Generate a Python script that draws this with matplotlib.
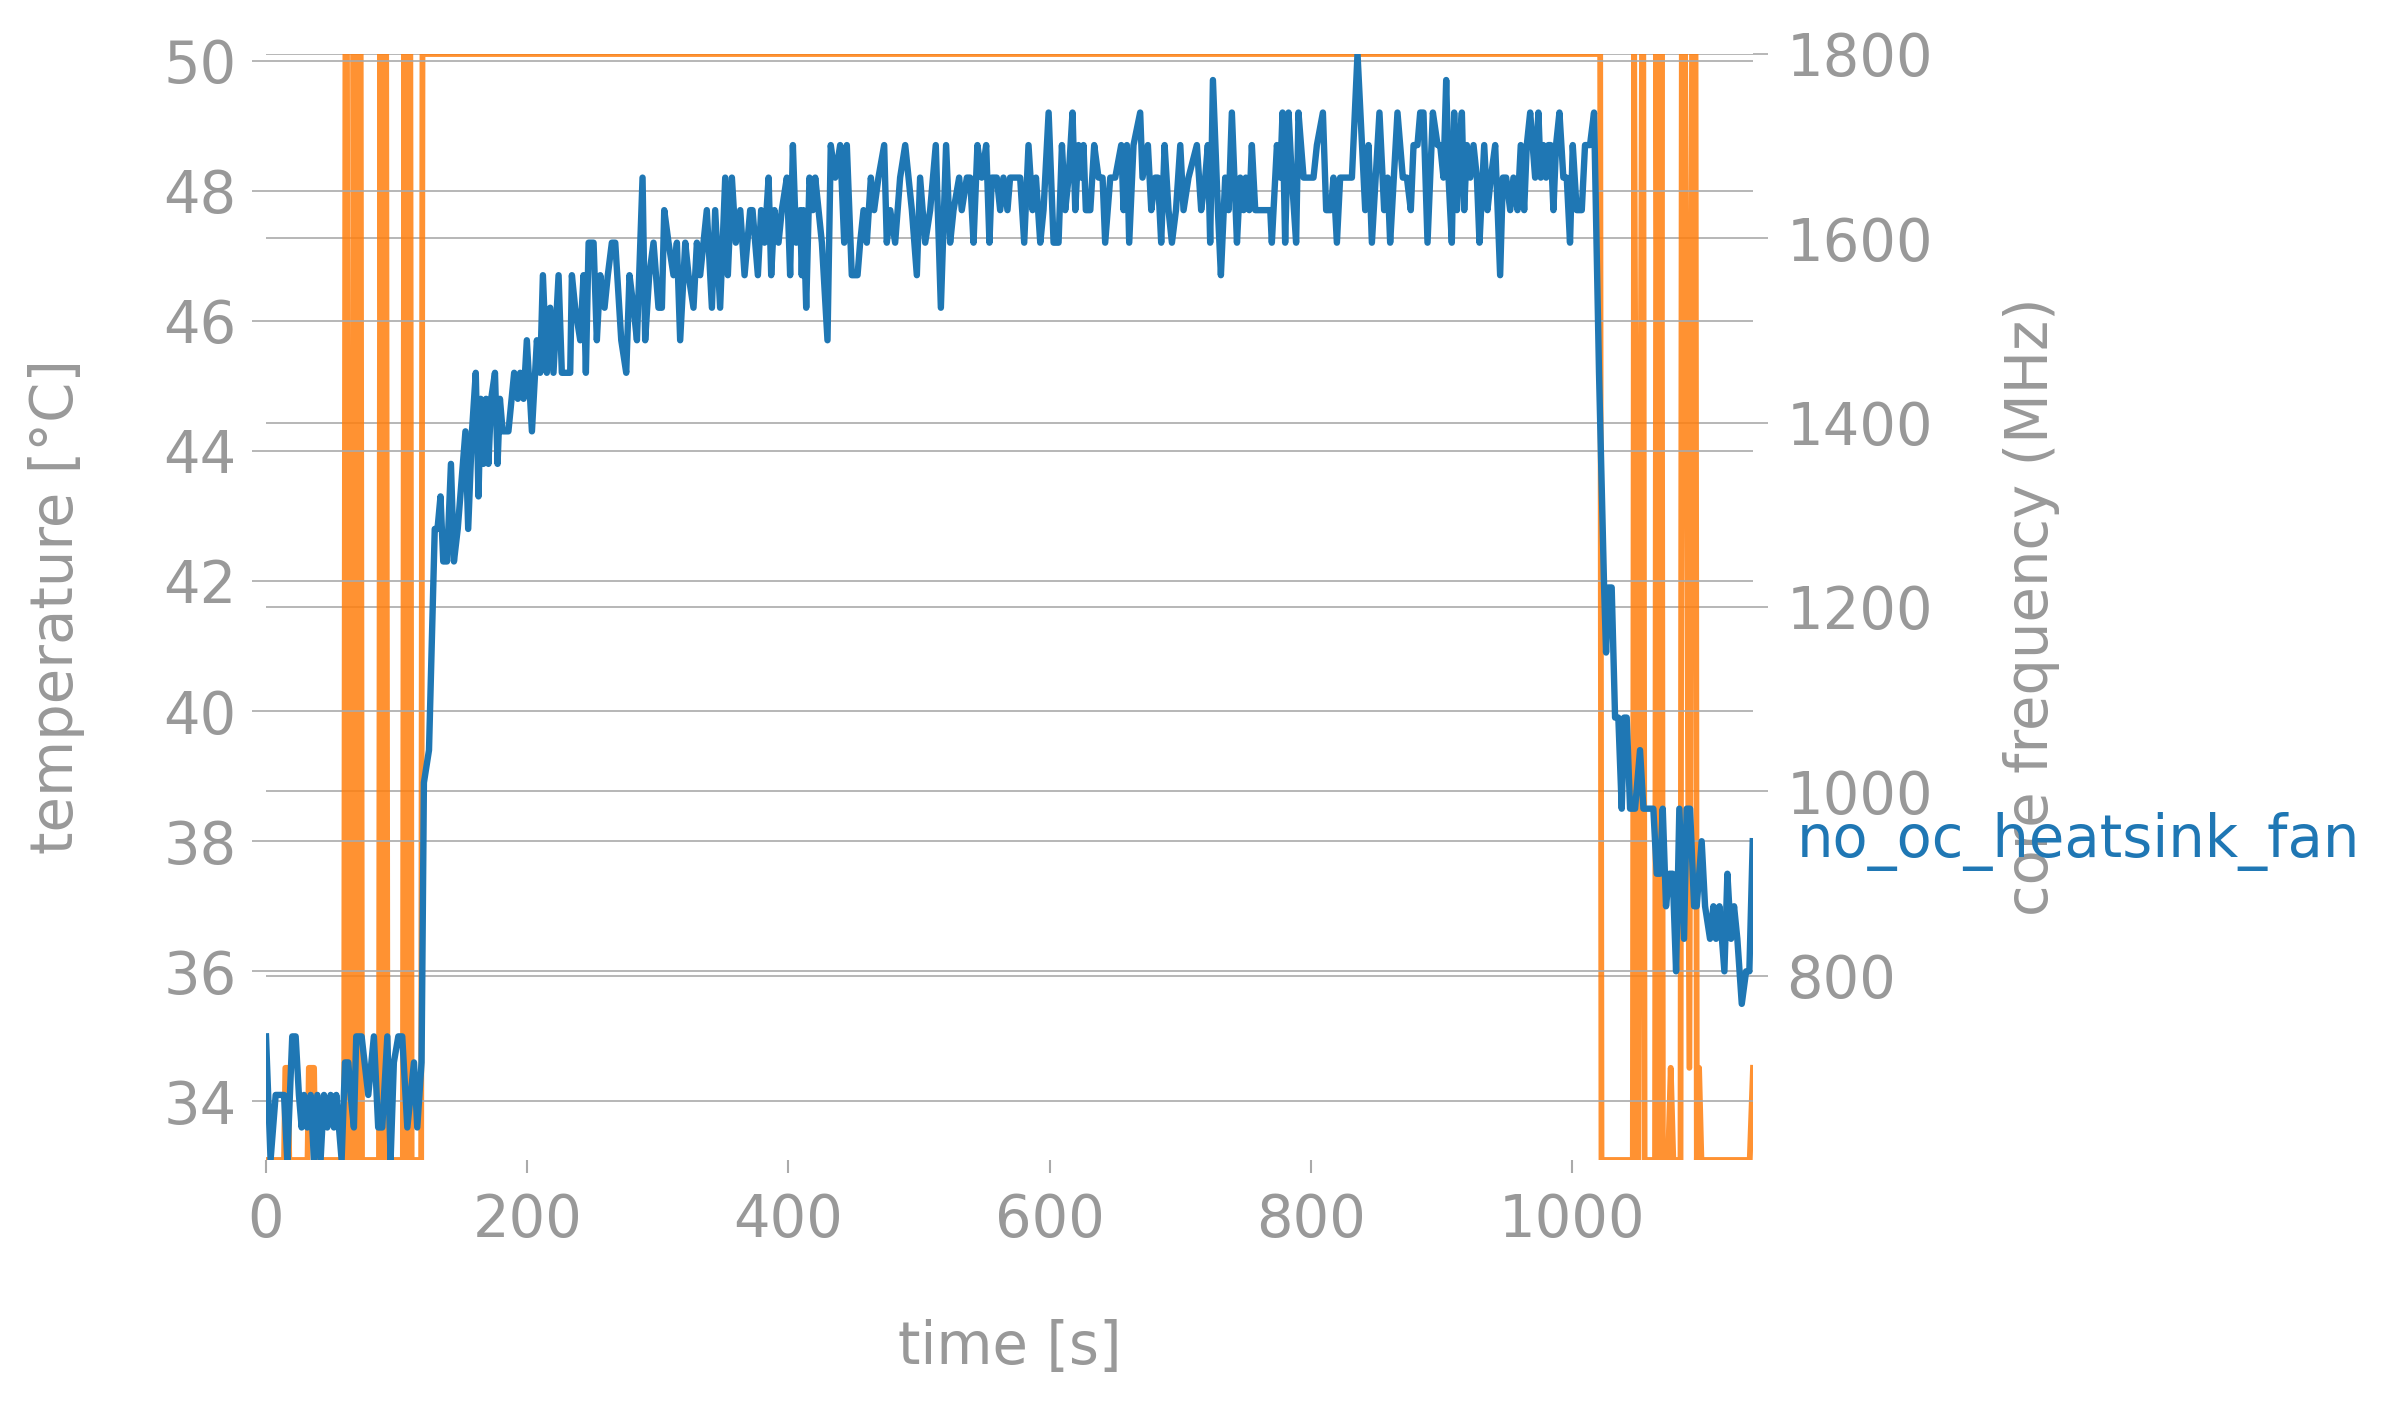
import matplotlib
matplotlib.use("Agg")
import matplotlib.pyplot as plt
import numpy as np
from matplotlib.ticker import MultipleLocator

GREY = "#999999"
GRID = "#aaaaaa"
BLUE = "#1f77b4"
ORANGE = "#ff7f0e"

run_name = "no_oc_heatsink_fan"

# temperature samples (time in s, value in degC)
temp_time = [
    0, 3.5, 7.4, 13.8, 16.3, 20.1, 22.7, 25.2, 27.3, 29.1, 31.6, 34.2, 36.7, 39.3, 41.8,
    44.4, 46.9, 49.5, 52.0, 53.8, 57.9, 60.5, 63.0, 64.8, 67.3, 69.1, 73.2, 78.3, 82.6,
    85.9, 89.0, 92.9, 95.4, 97.9, 101.3, 104.3, 108.2, 113.3, 115.8, 119.1, 120.9, 124.8,
    129.2, 131.3, 133.6, 135.7, 138.6, 141.6, 143.9, 146.8, 152.7, 154.8, 157.7, 160.6,
    162.7, 164.4, 166.5, 168.5, 170.3, 172.4, 175.3, 177.3, 179.1, 181.2, 185.6, 190.0,
    192.8, 194.6, 197.2, 199.7, 203.6, 207.4, 209.9, 212.0, 215.0, 217.6, 220.1, 224.0,
    226.5, 232.9, 234.2, 236.7, 240.6, 243.1, 244.9, 247.0, 250.8, 253.3, 255.9, 259.2,
    261.7, 264.8, 267.4, 272.0, 275.8, 278.3, 281.4, 284.0, 288.3, 290.3, 293.4, 296.7,
    300.5, 303.1, 304.9, 308.2, 312.0, 314.6, 317.1, 321.0, 323.5, 327.3, 329.9, 332.4,
    337.5, 341.4, 343.9, 347.7, 351.6, 353.6, 356.7, 359.7, 363.1, 366.4, 370.7, 372.5,
    376.6, 379.1, 381.7, 384.8, 386.8, 389.3,
    392.4, 394.9, 398.8, 401.3, 403.4, 405.9, 409.0, 410.2, 411.5, 413.6, 416.1, 418.7,
    420.5, 425.6, 429.9, 432.4, 435.8, 439.6, 442.7, 444.7, 448.5, 452.9, 454.9, 457.5,
    460.0, 463.1, 465.6, 468.9, 473.3, 475.3, 477.9, 481.7, 485.5, 489.4, 494.5, 498.3,
    500.8, 504.7, 508.5, 512.8, 516.7, 520.7, 523.8, 526.4, 530.7, 532.7, 536.6, 539.1,
    541.7, 544.7, 548.0, 551.4, 553.9, 555.7, 559.5, 562.1, 564.6, 567.7, 569.7, 577.4,
    580.5, 583.8,
    586.9, 589.5, 592.8, 595.3, 599.2, 603.0, 606.8, 609.4, 611.9, 614.5, 617.5, 619.6,
    622.1, 624.2, 625.9, 627.7, 631.1, 634.1, 637.4, 640.5, 642.5, 646.4, 650.2, 654.8,
    656.6, 659.1, 660.9, 664.2, 669.3, 671.1, 675.2, 677.8, 680.8, 682.9, 685.4, 688.0,
    691.0, 693.6, 696.7, 700.0, 702.5, 706.3, 712.7, 716.0, 719.1, 721.1, 722.9, 725.0,
    728.8, 731.1, 734.4, 737.0, 739.5, 743.4, 745.9, 748.5, 750.2, 752.8, 754.8, 757.4,
    768.9, 770.1, 774.0, 776.5, 778.3,
    780.3, 782.9, 785.4, 788.7, 790.5, 794.4, 802.0, 804.6, 809.2, 811.7, 815.3, 817.3,
    819.9, 822.4, 831.4, 835.7, 841.6, 844.1, 846.7, 852.5, 856.1, 858.7, 860.7, 866.3,
    870.4, 873.5, 876.5, 878.6, 881.6, 883.7, 886.2, 889.3, 893.4, 897.0, 899.0, 901.5,
    903.6, 905.4, 907.9, 909.7, 911.8, 913.8, 915.6, 917.4, 919.4, 922.0, 924.5, 927.1,
    929.1, 932.7, 935.2, 937.8, 941.1, 944.9, 947.0, 949.5, 952.6, 955.1, 958.2, 960.7,
    963.3, 965.3, 967.9, 971.7,
    974.2, 976.0, 978.0, 980.1, 981.8, 983.6, 985.7, 987.7, 990.3, 993.3, 995.9, 998.4,
    1000.5, 1003.5, 1007.4, 1009.9, 1013.7, 1016.8, 1020.6, 1024.5, 1026.0, 1027.8,
    1030.3, 1032.9, 1035.4, 1038.0, 1039.8, 1041.8, 1044.4, 1048.2, 1052.0, 1054.6,
    1062.2, 1064.8, 1067.3, 1069.4, 1071.9, 1074.5, 1077.0, 1079.6, 1082.1, 1085.7,
    1087.7, 1090.3, 1093.4, 1095.4, 1099.2, 1101.8, 1105.6, 1108.2, 1110.2, 1112.8,
    1116.6, 1118.9, 1121.7, 1124.0, 1126.5, 1129.9, 1133.2, 1135.7, 1138.3,
]
temp_c = [
    35.0, 33.1, 34.1, 34.1, 33.1, 35.0, 35.0, 34.1, 33.6, 34.1, 33.6, 34.1, 33.1, 34.1, 33.1,
    34.1, 33.6, 34.1, 33.6, 34.1, 33.1, 34.6, 34.6, 34.1, 33.6, 35.0, 35.0, 34.1, 35.0,
    33.6, 33.6, 35.0, 33.1, 34.6, 35.0, 35.0, 33.6, 34.6, 33.6, 34.6, 38.9, 39.4,
    42.8, 42.8, 43.3, 42.3, 42.3, 43.8, 42.3, 42.8, 44.3, 42.8, 44.3, 45.2,
    43.3, 44.8, 43.8, 44.8, 43.8, 44.8, 45.2, 43.8, 44.8, 44.3, 44.3, 45.2,
    44.8, 45.2, 44.8, 45.7, 44.3, 45.7, 45.2, 46.7, 45.2, 46.2, 45.2, 46.7,
    45.2, 45.2, 46.7, 46.2, 45.7, 46.7, 45.2, 47.2, 47.2, 45.7, 46.7, 46.2,
    46.7, 47.2, 47.2, 45.7, 45.2, 46.7, 46.2, 45.7, 48.2, 45.7, 46.7, 47.2,
    46.2, 46.2, 47.7, 47.2, 46.7, 47.2, 45.7, 47.2, 46.7, 46.2, 47.2, 46.7,
    47.7, 46.2, 47.7, 46.2, 48.2, 46.7, 48.2, 47.2, 47.7, 46.7, 47.7, 47.7,
    46.7, 47.7, 47.2, 48.2, 46.7, 47.7,
    47.2, 47.7, 48.2, 46.7, 48.7, 47.2, 47.7, 46.7, 47.7, 46.2, 48.2, 47.7,
    48.2, 47.2, 45.7, 48.7, 48.2, 48.7, 47.2, 48.7, 46.7, 46.7, 47.2, 47.7,
    47.2, 48.2, 47.7, 48.2, 48.7, 47.2, 47.7, 47.2, 48.2, 48.7, 47.7, 46.7,
    48.2, 47.2, 47.7, 48.7, 46.2, 48.7, 47.2, 47.7, 48.2, 47.7, 48.2, 48.2,
    47.2, 48.7, 48.2, 48.7, 47.2, 48.2, 48.2, 47.7, 48.2, 47.7, 48.2, 48.2,
    47.2, 48.7,
    47.7, 48.2, 47.2, 47.7, 49.2, 47.2, 47.2, 48.7, 47.7, 48.2, 49.2, 47.7,
    48.7, 48.2, 48.7, 47.7, 47.7, 48.7, 48.2, 48.2, 47.2, 48.2, 48.2, 48.7,
    47.7, 48.7, 47.2, 48.7, 49.2, 48.2, 48.7, 47.7, 48.2, 48.2, 47.2, 48.7,
    47.7, 47.2, 47.7, 48.7, 47.7, 48.2, 48.7, 47.7, 48.2, 48.7, 47.2, 49.7,
    47.7, 46.7, 48.2, 47.7, 49.2, 47.2, 48.2, 47.7, 48.2, 47.7, 48.7, 47.7,
    47.7, 47.2, 48.7, 48.2, 49.2,
    47.2, 49.2, 48.2, 47.2, 49.2, 48.2, 48.2, 48.7, 49.2, 47.7, 47.7, 48.2,
    47.2, 48.2, 48.2, 50.1, 47.7, 48.7, 47.2, 49.2, 47.7, 48.2, 47.2, 49.2,
    48.2, 48.2, 47.7, 48.7, 48.7, 49.2, 49.2, 47.2, 49.2, 48.7, 48.7, 48.2,
    49.7, 48.2, 47.2, 49.2, 47.7, 48.7, 49.2, 47.7, 48.7, 48.2, 48.7, 48.2,
    47.2, 48.7, 47.7, 48.2, 48.7, 46.7, 48.2, 48.2, 47.7, 48.2, 47.7, 48.7,
    47.7, 48.7, 49.2, 48.2,
    49.2, 48.2, 48.7, 48.2, 48.7, 48.7, 47.7, 48.7, 49.2, 48.2, 48.2, 47.2,
    48.7, 47.7, 47.7, 48.7, 48.7, 49.2, 45.2, 41.9, 40.9, 41.9,
    41.9, 39.9, 39.9, 38.5, 39.9, 39.9, 38.5, 38.5, 39.4, 38.5,
    38.5, 37.5, 37.5, 38.5, 37.0, 37.5, 37.5, 36.0, 38.5, 36.5,
    38.5, 38.5, 37.0, 37.0, 38.0, 37.0, 36.5, 37.0, 36.5, 37.0,
    36.0, 37.5, 36.5, 37.0, 36.5, 35.5, 36.0, 36.0, 38.0,
]

# core frequency (MHz), same time base
freq_time = [
    0, 13.8, 14.8, 16.8, 17.8, 31.8, 32.8, 36.8, 37.8, 59.8, 60.8, 62.0, 63.0,
    66.0, 67.0, 69.0, 70.5, 72.5, 73.5, 86.5, 87.5, 89.5, 91.0, 92.0, 93.0,
    104.8, 105.8, 107.8, 109.3, 110.5, 111.5, 118.8, 119.8, 1021.5, 1022.5,
    1046.5, 1047.5, 1050.5, 1053.5, 1054.5, 1055.5, 1063.5, 1064.5, 1067.0, 1068.5,
    1069.5, 1073.5, 1075.5, 1077.5, 1083.0, 1084.0, 1086.5, 1089.8, 1091.8, 1094.5,
    1095.5, 1097.2, 1099.0, 1136.0, 1138.5,
]
freq_mhz = [
    600, 600, 700, 700, 600, 600, 700, 700, 600, 600, 1800, 1800, 600,
    600, 1800, 600, 1800, 1800, 600, 600, 1800, 600, 1800, 1800, 600,
    600, 1800, 600, 1800, 1800, 600, 600, 1800, 1800, 600,
    600, 1800, 600, 1800, 1800, 600, 600, 1800, 600, 1800,
    600, 600, 700, 600, 600, 1800, 1800, 700, 1800, 1800,
    600, 700, 600, 600, 700,
]

plt.rcParams["font.family"] = ["DejaVu Sans"]
plt.rcParams["font.size"] = 41.5

W, H = 2399, 1409
fig = plt.figure(figsize=(W / 100, H / 100), dpi=100)
x0, x1, y_top, y_bot = 266, 1753, 54, 1160
ax = fig.add_axes([x0 / W, 1 - y_bot / H, (x1 - x0) / W, (y_bot - y_top) / H])
ax2 = ax.twinx()
ax.set_zorder(ax2.get_zorder() + 1)
ax.patch.set_visible(False)

ax2.plot(freq_time, freq_mhz, color=ORANGE, lw=4.2, alpha=0.85)
ax.plot(temp_time, temp_c, color=BLUE, lw=4.6)

ax.margins(x=0, y=0)
ax2.margins(x=0, y=0)
ax.set_xlim(0, max(temp_time[-1], freq_time[-1]))

ax.yaxis.set_major_locator(MultipleLocator(2))
ax.xaxis.set_major_locator(MultipleLocator(200))
ax2.set_yticks(np.arange(800, 1801, 200))

for a in (ax, ax2):
    for s in a.spines.values():
        s.set_visible(False)
    a.grid(axis="y", color=GRID, lw=1.2)
    a.set_axisbelow(True)

ax.tick_params(axis="y", color=GRID, labelcolor=GREY, length=10, width=1.2, pad=11)
ax.tick_params(axis="x", color=GRID, labelcolor=GREY, length=9, width=1.5, pad=14)
ax2.tick_params(axis="y", color=GRID, labelcolor=GREY, length=11, width=1.2, pad=13)

ax.set_ylabel("temperature [°C]", color=GREY, rotation=90, rotation_mode="default",
              ha="center", va="center")
ax.yaxis.set_label_coords((57 - x0) / (x1 - x0), 0.5)
ax2.set_ylabel("core frequency (MHz)", color=GREY, rotation=90, rotation_mode="default",
               ha="center", va="center")
ax2.yaxis.set_label_coords((2032 - x0) / (x1 - x0), 0.5)
ax.set_xlabel("time [s]", color=GREY, va="center")
ax.xaxis.set_label_coords(0.5, (y_bot - 1348) / (y_bot - y_top))

ax.annotate(run_name, xy=(temp_time[-1], temp_c[-1]), xytext=(32, 0),
            textcoords="offset points", color=BLUE, va="center", ha="left",
            annotation_clip=False)

fig.savefig("out.png", dpi=100)
